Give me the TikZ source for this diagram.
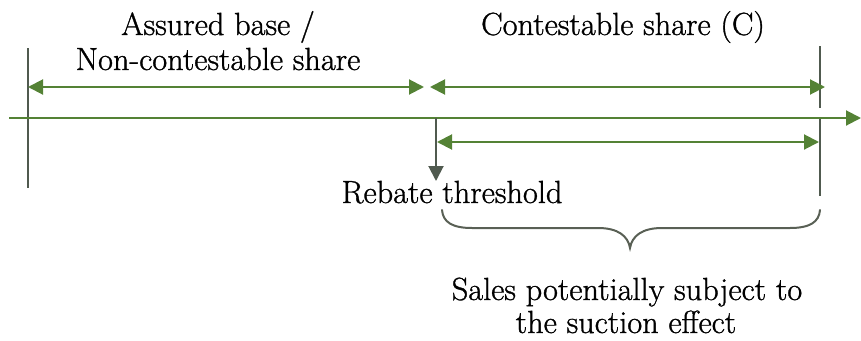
\documentclass[tikz,border=0pt]{standalone}
\usepackage{fontspec}
\setmainfont{Latin Modern Roman}[FakeStretch=1.01,FakeBold=1]
\usetikzlibrary{arrows.meta}
\definecolor{arrgreen}{HTML}{548235}
\definecolor{vgrey}{HTML}{505A4F}
\definecolor{bgrey}{HTML}{596055}
\begin{document}
\begin{tikzpicture}[x=1pt,y=-1pt,
  lbl/.style={inner sep=0pt,anchor=base,font=\rmfamily\fontsize{32}{35}\selectfont},
  span/.style={draw=arrgreen,line width=2pt,{Triangle[length=15pt,width=15pt]}-{Triangle[length=15pt,width=15pt]}},
  axisline/.style={draw=arrgreen,line width=2pt,-{Triangle[length=15pt,width=15pt]}},
  vline/.style={draw=vgrey,line width=2pt},
  thr/.style={draw=vgrey,line width=2pt,-{Triangle[length=15pt,width=15pt]}},
  bracestyle/.style={draw=bgrey,line width=2pt,line cap=round}]
\useasboundingbox (0,0) rectangle (861,340);
% coordinates
\coordinate (ax0) at (9,118);
\coordinate (ax1) at (861,118);
\coordinate (lt) at (28,48);
\coordinate (lb) at (28,188);
\coordinate (rt) at (820,46);
\coordinate (rm) at (820,108);
\coordinate (rn) at (820,118);
\coordinate (rb) at (820,196);
\coordinate (a1) at (28,87);
\coordinate (a2) at (424,87);
\coordinate (b1) at (430,87);
\coordinate (b2) at (825,87);
\coordinate (c1) at (437,142);
\coordinate (c2) at (819,142);
\coordinate (t0) at (436,118);
\coordinate (t1) at (436,181);
% verticals
\draw[vline] (lt) -- (lb);
\draw[vline] (rt) -- (rm);
\draw[vline] (rn) -- (rb);
% axis
\draw[axisline] (ax0) -- (ax1);
% spans
\draw[span] (a1) -- (a2);
\draw[span] (b1) -- (b2);
\draw[span] (c1) -- (c2);
% threshold
\draw[thr] (t0) -- (t1);
% brace
\coordinate (brL) at (442,210);
\coordinate (brM) at (630,248);
\coordinate (brR) at (820,210);
\draw[bracestyle] (brL) .. controls (443,222) and (452,228) .. (472,228)
  -- (598,228) .. controls (618,228) and (628,236) .. (brM)
  .. controls (632,236) and (642,228) .. (662,228)
  -- (790,228) .. controls (810,228) and (819,222) .. (brR);
% labels
\node[lbl] (assured) at (218,35) {Assured base /};
\node[lbl] (noncont) at (218,70) {Non-contestable share};
\node[lbl] (contest) at (623,35) {Contestable share (C)};
\node[lbl] (rebate) at (452,203) {Rebate threshold};
\node[lbl] (sales1) at (627,300) {Sales potentially subject to};
\node[lbl] (sales2) at (626,333) {the suction effect};
\end{tikzpicture}
\end{document}
